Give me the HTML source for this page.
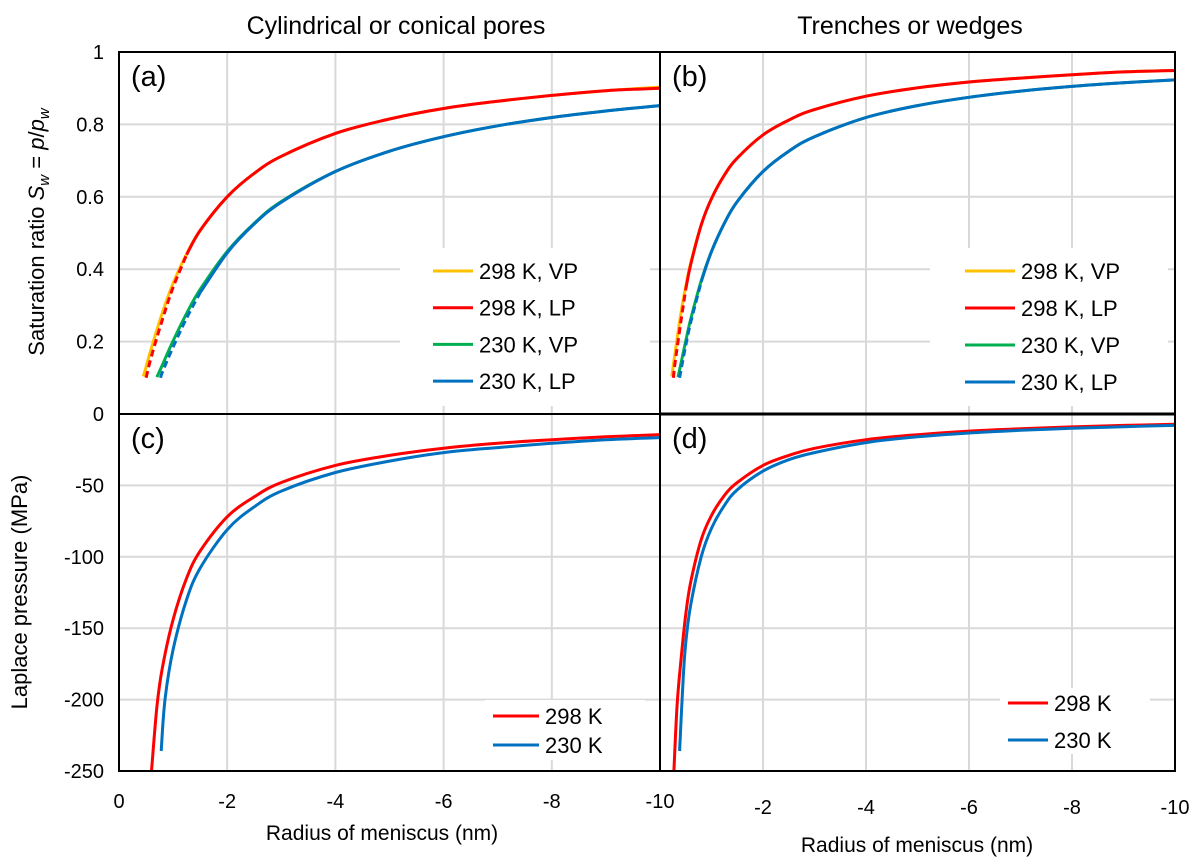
<!DOCTYPE html>
<html><head><meta charset="utf-8"><style>
html,body{margin:0;padding:0;background:#fff;}
svg{display:block;font-family:"Liberation Sans",sans-serif;}
</style></head><body>
<svg id="fig" width="1196" height="866" viewBox="0 0 1196 866" xmlns="http://www.w3.org/2000/svg">
<text x="396" y="34" font-size="25" text-anchor="middle">Cylindrical or conical pores</text>
<text x="910" y="34" font-size="25" text-anchor="middle">Trenches or wedges</text>
<text transform="translate(44,232) rotate(-90)" font-size="22" text-anchor="middle">Saturation ratio <tspan font-style="italic">S</tspan><tspan font-style="italic" font-size="15" dy="5">w</tspan><tspan dy="-5"> = </tspan><tspan font-style="italic">p</tspan>/<tspan font-style="italic">p</tspan><tspan font-style="italic" font-size="15" dy="5">w</tspan></text>
<text transform="translate(27,592) rotate(-90)" font-size="22" text-anchor="middle">Laplace pressure (MPa)</text>
<text x="382" y="840" font-size="21" text-anchor="middle">Radius of meniscus (nm)</text>
<text x="917" y="852" font-size="21" text-anchor="middle">Radius of meniscus (nm)</text>
<g id="layer"></g>
</svg>
<script>
const satTicks = ['0','0.2','0.4','0.6','0.8','1'];
const satTickVals = [0,0.2,0.4,0.6,0.8,1];
const pTicks = ['0','-50','-100','-150','-200','-250'];
const pTickVals = [0,-50,-100,-150,-200,-250];
const xTicks = ['0','-2','-4','-6','-8','-10'];
const xTickVals = [0,-2,-4,-6,-8,-10];

// Panel (a) cylindrical (radius magnitude nm, plotted negative)
const aR298VP = [0.45,0.5,0.6,0.8,1.0,1.25,1.5,2,2.5,3,4,5,6,7,8,9,10];
const aS298VP = [0.104,0.130,0.183,0.279,0.361,0.442,0.507,0.600,0.665,0.712,0.775,0.815,0.844,0.864,0.880,0.893,0.903];
const aR298LP = [0.5,0.6,0.8,1.0,1.25,1.5,2,2.5,3,4,5,6,7,8,9,10];
const aS298LP = [0.10,0.16,0.26,0.35,0.44,0.507,0.600,0.665,0.712,0.775,0.815,0.844,0.864,0.880,0.893,0.900];
const aR230VP = [0.7,0.8,1.0,1.25,1.5,2,2.5,3,4,5,6,7,8,9,10];
const aS230VP = [0.102,0.135,0.202,0.278,0.344,0.449,0.527,0.587,0.670,0.726,0.766,0.796,0.819,0.837,0.852];
const aR230LP = [0.77,0.8,1.0,1.25,1.5,2,2.5,3,4,5,6,7,8,9,10];
const aS230LP = [0.10,0.115,0.185,0.265,0.335,0.445,0.525,0.585,0.670,0.726,0.766,0.796,0.819,0.837,0.852];

// Panel (b) trenches
const bR298VP = [0.23,0.3,0.4,0.5,0.6,0.8,1.0,1.25,1.5,2,2.5,3,4,5,6,7,8,9,10];
const bS298VP = [0.104,0.177,0.273,0.353,0.420,0.522,0.595,0.660,0.707,0.771,0.812,0.841,0.878,0.901,0.917,0.928,0.937,0.945,0.949];
const bR298LP = [0.26,0.3,0.4,0.5,0.6,0.8,1.0,1.25,1.5,2,2.5,3,4,5,6,7,8,9,10];
const bS298LP = [0.10,0.15,0.25,0.345,0.415,0.522,0.595,0.660,0.707,0.771,0.812,0.841,0.878,0.901,0.917,0.928,0.937,0.945,0.949];
const bR230VP = [0.35,0.4,0.5,0.6,0.8,1.0,1.25,1.5,2,2.5,3,4,5,6,7,8,9,10];
const bS230VP = [0.102,0.135,0.202,0.264,0.368,0.449,0.527,0.587,0.670,0.726,0.766,0.819,0.852,0.875,0.892,0.905,0.915,0.923];
const bR230LP = [0.38,0.4,0.5,0.6,0.8,1.0,1.25,1.5,2,2.5,3,4,5,6,7,8,9,10];
const bS230LP = [0.10,0.115,0.19,0.255,0.365,0.449,0.527,0.587,0.670,0.726,0.766,0.819,0.852,0.875,0.892,0.905,0.915,0.923];

// Panel (c)
const cR298 = [0.6,0.7,0.8,1.0,1.25,1.5,2,2.5,3,4,5,6,7,8,9,10];
const cP298 = [-255,-205,-178,-144,-115,-96,-72,-58,-48,-36,-29,-24,-20.5,-18,-16,-14.4];
const cR230 = [0.78,0.85,1.0,1.25,1.5,2,2.5,3,4,5,6,7,8,9,10];
const cP230 = [-236,-200,-165,-130,-108,-81,-65,-54,-41,-33,-27,-23.5,-20.5,-18,-16.5];

// Panel (d)
const dR298 = [0.27,0.33,0.4,0.5,0.6,0.8,1.0,1.25,1.5,2,2.5,3,4,5,6,7,8,9,10];
const dP298 = [-255,-205,-175,-140,-117,-88,-71,-57,-48,-36,-29,-24,-18,-14.5,-12,-10.3,-9,-8,-7.2];
const dR230 = [0.38,0.45,0.5,0.6,0.8,1.0,1.25,1.5,2,2.5,3,4,5,6,7,8,9,10];
const dP230 = [-236,-185,-160,-133,-100,-80,-64,-53,-40,-32,-27,-20,-16,-13.3,-11.4,-10,-8.9,-8];

const NS='http://www.w3.org/2000/svg';
const layer=document.getElementById('layer');
function mk(tag,attrs,parent){const e=document.createElementNS(NS,tag);for(const k in attrs)e.setAttribute(k,attrs[k]);(parent||layer).appendChild(e);return e;}

const panels={
 a:{x0:119,x1:660,y0:52,y1:414,ymin:0,ymax:1},
 b:{x0:660,x1:1175,y0:52,y1:414,ymin:0,ymax:1},
 c:{x0:119,x1:660,y0:414,y1:771,ymin:-250,ymax:0},
 d:{x0:660,x1:1175,y0:414,y1:771,ymin:-250,ymax:0}
};
function xs(p,r){return p.x0+(r/10)*(p.x1-p.x0);}
function ys(p,v){v=Math.max(p.ymin,Math.min(p.ymax,v));return p.y1-(v-p.ymin)/(p.ymax-p.ymin)*(p.y1-p.y0);}

for(const key in panels){
 const p=panels[key];
 const g=mk('g',{});
 
 
 xTickVals.forEach(v=>{const x=xs(p,-v);mk('line',{x1:x,x2:x,y1:p.y0,y2:p.y1,stroke:'#d9d9d9','stroke-width':2},g);});
 const tv = (key==='a'||key==='b')?satTickVals:pTickVals;
 tv.forEach(v=>{const y=ys(p,v);mk('line',{x1:p.x0,x2:p.x1,y1:y,y2:y,stroke:'#d9d9d9','stroke-width':2},g);});
}

const legBg=[[400,248,250,158],[930,248,238,158],[485,700,160,60],[1000,688,150,66]];
legBg.forEach((b,i)=>{const r=mk('rect',{x:b[0],y:b[1],width:b[2],height:b[3],fill:'#fff'});
 
 });

function path(p,R,V){
 const pts=R.map((r,i)=>[xs(p,r),ys(p,V[i])]);
 let d='M'+pts[0][0].toFixed(1)+','+pts[0][1].toFixed(1);
 for(let i=0;i<pts.length-1;i++){
  const p0=pts[Math.max(0,i-1)],p1=pts[i],p2=pts[i+1],p3=pts[Math.min(pts.length-1,i+2)];
  const c1=[p1[0]+(p2[0]-p0[0])/6,p1[1]+(p2[1]-p0[1])/6];
  const c2=[p2[0]-(p3[0]-p1[0])/6,p2[1]-(p3[1]-p1[1])/6];
  d+=' C'+c1.map(v=>v.toFixed(1)).join(',')+' '+c2.map(v=>v.toFixed(1)).join(',')+' '+p2.map(v=>v.toFixed(1)).join(',');
 }
 return d;
}
function series(name,p,R,V,color,dashUntil){
 const g=mk('g',{});
 
 
 if(dashUntil!=null){
  let k=R.findIndex(v=>v>=dashUntil); if(k<1)k=1;
  mk('path',{d:path(p,R.slice(0,k+1),V.slice(0,k+1)),fill:'none',stroke:color,'stroke-width':3,'stroke-dasharray':'7,4'},g);
  mk('path',{d:path(p,R.slice(k),V.slice(k)),fill:'none',stroke:color,'stroke-width':3},g);
 } else mk('path',{d:path(p,R,V),fill:'none',stroke:color,'stroke-width':3,'stroke-linejoin':'round'},g);
}
const OR='#ffc000',RD='#ff0000',GR='#00b050',BL='#0070c0';
series('a-298k-vp',panels.a,aR298VP,aS298VP,OR);
series('a-230k-vp',panels.a,aR230VP,aS230VP,GR);
series('a-298k-lp',panels.a,aR298LP,aS298LP,RD,1.1);
series('a-230k-lp',panels.a,aR230LP,aS230LP,BL,1.4);
series('b-298k-vp',panels.b,bR298VP,bS298VP,OR);
series('b-230k-vp',panels.b,bR230VP,bS230VP,GR);
series('b-298k-lp',panels.b,bR298LP,bS298LP,RD,0.45);
series('b-230k-lp',panels.b,bR230LP,bS230LP,BL,0.7);
series('c-298k',panels.c,cR298,cP298,RD);
series('c-230k',panels.c,cR230,cP230,BL);
series('d-298k',panels.d,dR298,dP298,RD);
series('d-230k',panels.d,dR230,dP230,BL);

for(const key in panels){const p=panels[key];
 const r=mk('rect',{x:p.x0,y:p.y0,width:p.x1-p.x0,height:p.y1-p.y0,fill:'none',stroke:'#000','stroke-width':2});
 
 
 const t=mk('text',{x:p.x0+12,y:p.y0+34,'font-size':29});
 t.textContent='('+key+')';
 
 
}
mk('line',{x1:660,x2:1175,y1:414,y2:414,stroke:'#000','stroke-width':3});

satTickVals.forEach((v,i)=>{const t=mk('text',{x:104,y:ys(panels.a,v)+7,'font-size':20,'text-anchor':'end'});t.textContent=satTicks[i];
 
 });
pTickVals.forEach((v,i)=>{if(i===0)return;const t=mk('text',{x:104,y:ys(panels.c,v)+7,'font-size':20,'text-anchor':'end'});t.textContent=pTicks[i];
 
 });
xTickVals.forEach((v,i)=>{
 const t=mk('text',{x:xs(panels.c,-v),y:808,'font-size':20,'text-anchor':'middle'});t.textContent=xTicks[i];
 
 
 if(i>0){const t2=mk('text',{x:xs(panels.d,-v),y:814,'font-size':20,'text-anchor':'middle'});t2.textContent=xTicks[i];
 
 }
});

function legend(x,ys0,gap,labels,colors,lineW){
 labels.forEach((l,i)=>{const y=ys0+i*gap;
  const g=mk('g',{});
  
  
  mk('line',{x1:x,x2:x+lineW,y1:y,y2:y,stroke:colors[i],'stroke-width':3},g);
  const t=mk('text',{x:x+lineW+6,y:y+8,'font-size':22},g);t.textContent=l;});
}
legend(433,271,36.7,['298 K, VP','298 K, LP','230 K, VP','230 K, LP'],[OR,RD,GR,BL],40);
legend(965,271,37,['298 K, VP','298 K, LP','230 K, VP','230 K, LP'],[OR,RD,GR,BL],50);
legend(493,716,29,['298 K','230 K'],[RD,BL],46);
legend(1008,703,37,['298 K','230 K'],[RD,BL],40);
</script>
</body></html>
